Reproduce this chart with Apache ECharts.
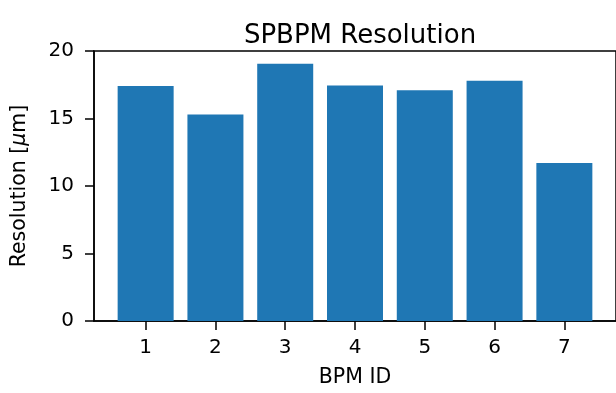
<!DOCTYPE html>
<html lang="en">
<head>
    <meta charset="UTF-8">
    <title>SPBPM Resolution</title>
    <script src="https://cdn.jsdelivr.net/npm/echarts@6/dist/echarts.min.js"></script>
    <style>
        html, body { margin: 0; padding: 0; background: #fff; overflow: hidden; }
        #chart { width: 616px; height: 393px; }
    </style>
</head>
<body>
<div id="chart"></div>
<script>
    // data
    var bpmIds = [1, 2, 3, 4, 5, 6, 7];
    var resolution = [17.4, 15.3, 19.05, 17.45, 17.1, 17.8, 11.7];
    var yTicks = [0, 5, 10, 15, 20];

    var font = 'DejaVu Sans';
    var myChart = echarts.init(document.getElementById('chart'), null, {renderer: 'canvas'});

    var option = {
        animation: false,
        title: {
            text: 'SPBPM Resolution',
            left: 355, top: 18, textAlign: 'center',
            textStyle: {fontFamily: font, fontSize: 26, fontWeight: 'normal', color: '#000'}
        },
        grid: {
            left: 94, top: 51, width: 524.6, height: 276,
            show: true, borderColor: '#000', borderWidth: 1.5, backgroundColor: 'transparent'
        },
        xAxis: {
            type: 'value',
            min: 0.26, max: 7.74,
            name: 'BPM ID', nameLocation: 'middle', nameGap: 46,
            nameTextStyle: {fontFamily: font, fontSize: 20.5, color: '#000'},
            axisLine: {show: true, onZero: false, lineStyle: {color: '#000', width: 1.5}},
            axisTick: {show: true, inside: false, length: 9, customValues: bpmIds, lineStyle: {color: '#000', width: 1.5}},
            axisLabel: {customValues: bpmIds, margin: 17, fontFamily: font, fontSize: 20, color: '#000'},
            splitLine: {show: false}
        },
        yAxis: {
            type: 'value',
            min: 0, max: 20, interval: 5,
            name: 'Resolution [{i|μ}m]', nameLocation: 'middle', nameGap: 64, nameRotate: 90,
            nameTextStyle: {
                fontFamily: font, fontSize: 20.5, color: '#000',
                rich: {i: {fontFamily: font, fontSize: 20.5, fontStyle: 'italic', color: '#000'}}
            },
            axisLine: {show: true, lineStyle: {color: '#000', width: 1.5}},
            axisTick: {show: true, length: 9, customValues: yTicks, lineStyle: {color: '#000', width: 1.5}},
            axisLabel: {customValues: yTicks, margin: 20, fontFamily: font, fontSize: 20, color: '#000'},
            splitLine: {show: false}
        },
        series: [{
            type: 'bar',
            barWidth: 56,
            itemStyle: {color: '#1f77b4'},
            data: bpmIds.map(function (id, i) { return [id, resolution[i]]; })
        }]
    };
    myChart.setOption(option);
</script>
</body>
</html>
